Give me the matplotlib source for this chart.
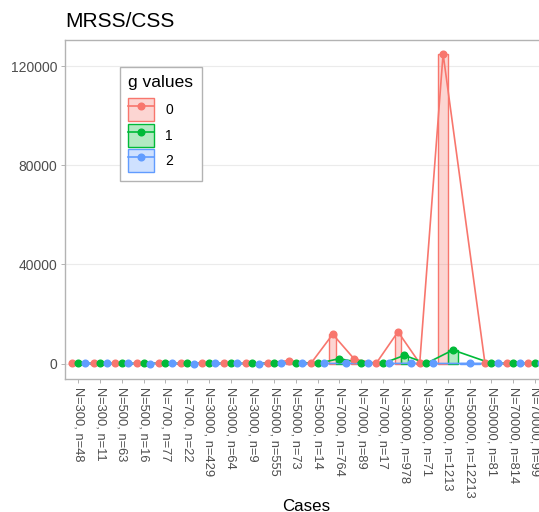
import numpy as np
import matplotlib
matplotlib.use("Agg")
import matplotlib.pyplot as plt
from matplotlib.patches import Patch
from matplotlib.lines import Line2D
from matplotlib.legend_handler import HandlerTuple

plt.rcParams['font.family'] = ['Liberation Sans', 'DejaVu Sans']

cases = ["N=300, n=48", "N=300, n=11", "N=500, n=63", "N=500, n=16", "N=700, n=77",
         "N=700, n=22", "N=3000, n=429", "N=3000, n=64", "N=3000, n=9", "N=5000, n=555",
         "N=5000, n=73", "N=5000, n=14", "N=7000, n=764", "N=7000, n=89", "N=7000, n=17",
         "N=30000, n=978", "N=30000, n=71", "N=50000, n=1213", "N=50000, n=12213",
         "N=50000, n=81", "N=70000, n=814", "N=70000, n=99"]

nan = np.nan
g0 = [180, 90, 110, 70, 140, 60, 160, 80, 40, 250, 1200, 90, 11800, 1700, 100,
      12800, 120, 124900, nan, 150, 130, 80]
g1 = [40, 20, 30, 15, 35, 15, 50, 20, 10, 60, 300, 30, 1950, 300, 30,
      3300, 40, 5450, nan, 40, 35, 20]
g2 = [5, 3, 4, 2, 5, 2, 8, 3, 1, 10, 40, 5, 60, 20, 5,
      80, 10, nan, 5, 10, 5, 3]

group_labels = ["0", "1", "2"]
colors = ["#F8766D", "#00BA38", "#619CFF"]
series = [np.array(g0, float), np.array(g1, float), np.array(g2, float)]

W, H = 539, 512
fig = plt.figure(figsize=(W / 100, H / 100), dpi=100)
left, right, top, bottom = 65.3, 548.0, 40.0, 379.0
ax = fig.add_axes([left / W, 1 - bottom / H, (right - left) / W, (bottom - top) / H])

x = np.arange(1, len(cases) + 1)
present = np.array([~np.isnan(s) for s in series])
n_present = present.sum(axis=0)
dodge = 0.9

for k, (vals, col) in enumerate(zip(series, colors)):
    mask = present[k]
    rank = present[:k].sum(axis=0) if k > 0 else np.zeros(len(x), int)
    w = dodge / np.maximum(n_present, 1)
    xpos = x - dodge / 2 + (rank + 0.5) * w
    ax.bar(xpos[mask], vals[mask], width=w[mask], facecolor=matplotlib.colors.to_rgba(col, 0.3),
           edgecolor=col, linewidth=1.0, zorder=2)
    ax.plot(xpos[mask], vals[mask], color=col, lw=1.2, zorder=3)
    ax.plot(xpos[mask], vals[mask], 'o', color=col, ms=4.8, zorder=4)

ax.set_xlim(0.4, len(cases) + 0.6)
ax.set_ylim(-6250, 130500)
ax.set_xticks(x)
ax.set_xticklabels(cases, rotation=270, ha='center', va='top', fontsize=9.3)
ax.set_yticks([0, 40000, 80000, 120000])
ax.set_yticklabels(["0", "40000", "80000", "120000"], fontsize=10)
ax.yaxis.grid(True, color='#EBEBEB', lw=0.8)
ax.xaxis.grid(False)
ax.set_axisbelow(True)
for sp in ax.spines.values():
    sp.set_color('#B3B3B3')
    sp.set_linewidth(1.0)
ax.tick_params(colors='#B3B3B3', labelcolor='#4D4D4D', length=2.75, width=0.7, pad=3)

ax.set_xlabel("Cases", fontsize=12.2, color='black')
ax.xaxis.set_label_coords(0.5, (bottom - 499) / (bottom - top))
ax.xaxis.label.set_va('top')

fig.text(65 / W, 1 - 27 / H, "MRSS/CSS", fontsize=15, ha='left', va='baseline')

handles = [(Patch(facecolor=matplotlib.colors.to_rgba(c, 0.3), edgecolor=c, linewidth=1.0),
            Line2D([], [], color=c, lw=1.2, marker='o', ms=4.8)) for c in colors]
leg = ax.legend(handles, group_labels, handler_map={tuple: HandlerTuple(ndivide=1)},
                title="g values", title_fontsize=12.5, fontsize=10,
                loc='upper left', bbox_to_anchor=(120 / W, 1 - 67 / H),
                bbox_transform=fig.transFigure, borderaxespad=0,
                frameon=True, fancybox=False, edgecolor='#B3B3B3', framealpha=1,
                handlelength=1.87, handleheight=2.2, labelspacing=0.17,
                handletextpad=0.8, borderpad=0.6, alignment='left')
leg.get_frame().set_linewidth(1.0)
leg._legend_box.sep = 5.5

fig.savefig("out.png", dpi=100)
